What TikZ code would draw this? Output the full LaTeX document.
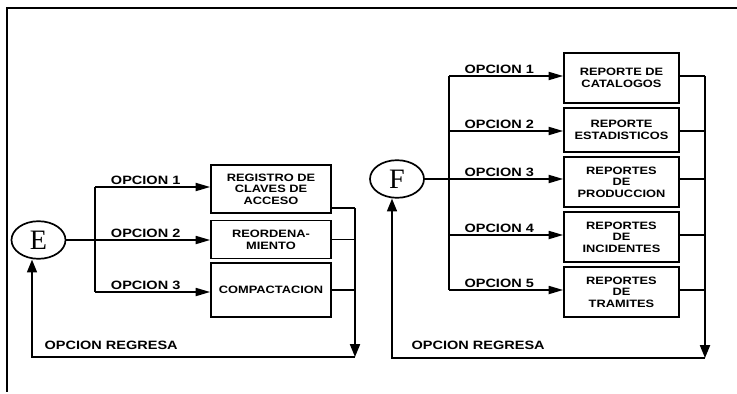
\documentclass[tikz,border=0pt]{standalone}
\usepackage{fontspec}
\setmainfont{Liberation Serif}
\newfontfamily\optfont[FakeStretch=1.2]{Liberation Sans}
\usetikzlibrary{arrows.meta,shapes.geometric}
\tikzset{
  line/.style={line width=1.2pt},
  frame/.style={line width=1.3pt},
  menu/.style={
    draw,
    line width=1.2pt,
    ellipse,
    inner sep=0pt,
    minimum width=1.35cm,
    minimum height=0.94cm,
    font=\fontsize{20}{20}\selectfont,
  },
  opc/.style={
    draw,
    line width=1.2pt,
    rectangle,
    align=center,
    inner sep=1pt,
    minimum width=3cm,
    font=\optfont\bfseries\fontsize{7.6}{8.3}\selectfont,
  },
  rep/.style={opc, minimum width=2.875cm, minimum height=1.25cm},
  arr/.style={-{Triangle[length=3.6mm, width=2mm]}, line width=1.2pt},
  varr/.style={-{Triangle[length=3.2mm, width=2.5mm]}, line width=1.2pt},
  lbl/.style={font=\optfont\bfseries\fontsize{8.6}{10}\selectfont, inner sep=1pt},
}

\begin{document}
\begin{tikzpicture}[x=0.025cm, y=-0.025cm]
  \useasboundingbox (0,0) rectangle (737,394);
  \draw[frame] (737,8) -- (7,8) -- (7,392);

  \node[menu] (E) at (38.5,240) {E};
  \node[opc, minimum height=1.2cm] (reg) at (271,189) {REGISTRO DE\\CLAVES DE\\ACCESO};
  \node[opc, minimum height=0.95cm] (reo) at (271,239.5) {REORDENA-\\MIENTO};
  \node[opc, minimum height=1.35cm] (com) at (271,290) {COMPACTACION};

  \coordinate (eb1) at (95,187);
  \coordinate (eb2) at (95,240);
  \coordinate (eb3) at (95,292);
  \coordinate (eout) at (355,208);
  \coordinate (edown) at (355,357);
  \coordinate (eback) at (32,357);

  \draw[line] (E.east) -- (eb2);
  \draw[line] (eb1) -- (eb3);
  \draw[arr] (eb1) -- node[lbl, above, pos=.44] (e1) {OPCION 1} (eb1 -| reg.west);
  \draw[arr] (eb2) -- node[lbl, above, pos=.44] (e2) {OPCION 2} (eb2 -| reo.west);
  \draw[arr] (eb3) -- node[lbl, above, pos=.44] (e3) {OPCION 3} (eb3 -| com.west);

  \draw[line] (reg.east |- eout) -- (eout);
  \draw[line] (reo.east) -- (reo.east -| eout);
  \draw[line] (com.east) -- (com.east -| eout);
  \draw[varr] (eout) -- (edown);
  \draw[varr] (edown) -- (eback) -- (E.south -| eback);
  \node[lbl, anchor=west] (eret) at (43,345) {OPCION REGRESA};

  \node[menu] (F) at (397,179) {F};
  \node[rep] (cat) at (621.5,78) {REPORTE DE\\CATALOGOS};
  \node[rep, minimum height=1.1cm] (est) at (621.5,130) {REPORTE\\ESTADISTICOS};
  \node[rep] (pro) at (621.5,182) {REPORTES\\DE\\PRODUCCION};
  \node[rep] (inc) at (621.5,237) {REPORTES\\DE\\INCIDENTES};
  \node[rep] (tra) at (621.5,292) {REPORTES\\DE\\TRAMITES};

  \coordinate (fb1) at (449,76);
  \coordinate (fb2) at (449,131);
  \coordinate (fb3) at (449,179);
  \coordinate (fb4) at (449,235);
  \coordinate (fb5) at (449,290);
  \coordinate (fout) at (705,76);
  \coordinate (fdown) at (705,358);
  \coordinate (fback) at (392,358);

  \draw[line] (F.east) -- (fb3);
  \draw[line] (fb1) -- (fb5);
  \draw[arr] (fb1) -- node[lbl, above, pos=.44] (f1) {OPCION 1} (fb1 -| cat.west);
  \draw[arr] (fb2) -- node[lbl, above, pos=.44] (f2) {OPCION 2} (fb2 -| est.west);
  \draw[arr] (fb3) -- node[lbl, above, pos=.44] (f3) {OPCION 3} (fb3 -| pro.west);
  \draw[arr] (fb4) -- node[lbl, above, pos=.44] (f4) {OPCION 4} (fb4 -| inc.west);
  \draw[arr] (fb5) -- node[lbl, above, pos=.44] (f5) {OPCION 5} (fb5 -| tra.west);

  \draw[line] (cat.east |- fb1) -- (fout);
  \draw[line] (est.east |- fb2) -- (fb2 -| fout);
  \draw[line] (pro.east |- fb3) -- (fb3 -| fout);
  \draw[line] (inc.east |- fb4) -- (fb4 -| fout);
  \draw[line] (tra.east |- fb5) -- (fb5 -| fout);
  \draw[varr] (fout) -- (fdown);
  \draw[varr] (fdown) -- (fback) -- (F.south -| fback);
  \node[lbl, anchor=west] (fret) at (410,345) {OPCION REGRESA};
\end{tikzpicture}
\end{document}
